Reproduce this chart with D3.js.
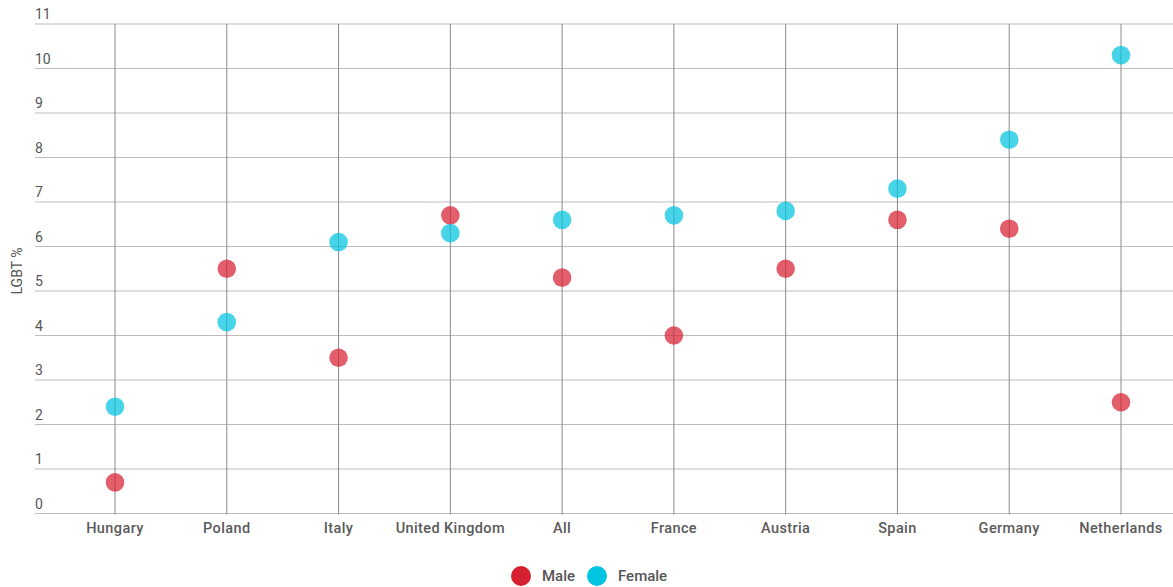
<!DOCTYPE html>
<html>
<head>
<meta charset="utf-8">
<script src="https://cdn.jsdelivr.net/npm/d3@7"></script>
<style>
  body { margin: 0; background: #fff; font-family: Roboto, "Noto Sans", sans-serif; }
  .tick-label { font-size: 14px; fill: #555; }
  .axis-title { font-size: 14px; fill: #555; }
  .cat-label { font-size: 14.5px; fill: #5a5a5a; font-weight: 500; letter-spacing: 0.4px; }
  .legend-label { font-size: 15px; fill: #555; font-weight: 500; }
</style>
</head>
<body>
<div id="chart"></div>
<script>
// data
const countries = ['Hungary', 'Poland', 'Italy', 'United Kingdom', 'All', 'France', 'Austria', 'Spain', 'Germany', 'Netherlands'];
const maleValues = [0.7, 5.5, 3.5, 6.7, 5.3, 4.0, 5.5, 6.6, 6.4, 2.5];
const femaleValues = [2.4, 4.3, 6.1, 6.3, 6.6, 6.7, 6.8, 7.3, 8.4, 10.3];
const yTicks = [0, 1, 2, 3, 4, 5, 6, 7, 8, 9, 10, 11];
const seriesNames = ['Male', 'Female'];
const seriesColors = ['#d62030', '#00c4e0'];

const width = 1173, height = 587;
const gridLeft = 35, gridRight = 1173;

const svg = d3.select('#chart')
    .append('svg')
    .attr('width', width)
    .attr('height', height);

// scales
const x = d3.scalePoint()
    .domain(countries)
    .range([115, 1121]);

const y = d3.scaleLinear()
    .domain([0, 11])
    .range([513.5, 24]);

// horizontal gridlines + tick labels
svg.selectAll('.h-grid')
    .data(yTicks)
    .enter()
    .append('line')
    .attr('class', 'h-grid')
    .attr('x1', gridLeft)
    .attr('x2', gridRight)
    .attr('y1', d => y(d))
    .attr('y2', d => y(d))
    .attr('stroke', '#bdbdbd')
    .attr('stroke-width', 1.2);

svg.selectAll('.tick-label')
    .data(yTicks)
    .enter()
    .append('text')
    .attr('class', 'tick-label')
    .attr('x', gridLeft)
    .attr('y', d => y(d) - 5)
    .text(d => d);

// vertical gridlines
svg.selectAll('.v-grid')
    .data(countries)
    .enter()
    .append('line')
    .attr('class', 'v-grid')
    .attr('x1', d => x(d))
    .attr('x2', d => x(d))
    .attr('y1', y(11))
    .attr('y2', y(0) + 1)
    .attr('stroke', '#8a8a8a')
    .attr('stroke-width', 1);

// category labels
svg.selectAll('.cat-label')
    .data(countries)
    .enter()
    .append('text')
    .attr('class', 'cat-label')
    .attr('x', d => x(d))
    .attr('y', 533)
    .attr('text-anchor', 'middle')
    .text(d => d);

// y axis title
svg.append('text')
    .attr('class', 'axis-title')
    .attr('transform', `translate(22, 271) rotate(-90)`)
    .attr('text-anchor', 'middle')
    .text('LGBT %');

// points
const series = [maleValues, femaleValues];
series.forEach((vals, s) => {
    svg.selectAll('.dot-' + s)
        .data(vals)
        .enter()
        .append('circle')
        .attr('class', 'dot-' + s)
        .attr('cx', (d, i) => x(countries[i]))
        .attr('cy', d => y(d))
        .attr('r', 9.3)
        .attr('fill', seriesColors[s])
        .attr('fill-opacity', 0.72);
});

// legend
const legendX = [521, 597];
const legend = svg.selectAll('.legend')
    .data(seriesNames)
    .enter()
    .append('g')
    .attr('class', 'legend')
    .attr('transform', (d, i) => `translate(${legendX[i]}, 576)`);

legend.append('circle')
    .attr('r', 10)
    .attr('fill', (d, i) => seriesColors[i]);

legend.append('text')
    .attr('class', 'legend-label')
    .attr('x', 21)
    .attr('dy', '0.35em')
    .text(d => d);
</script>
</body>
</html>
